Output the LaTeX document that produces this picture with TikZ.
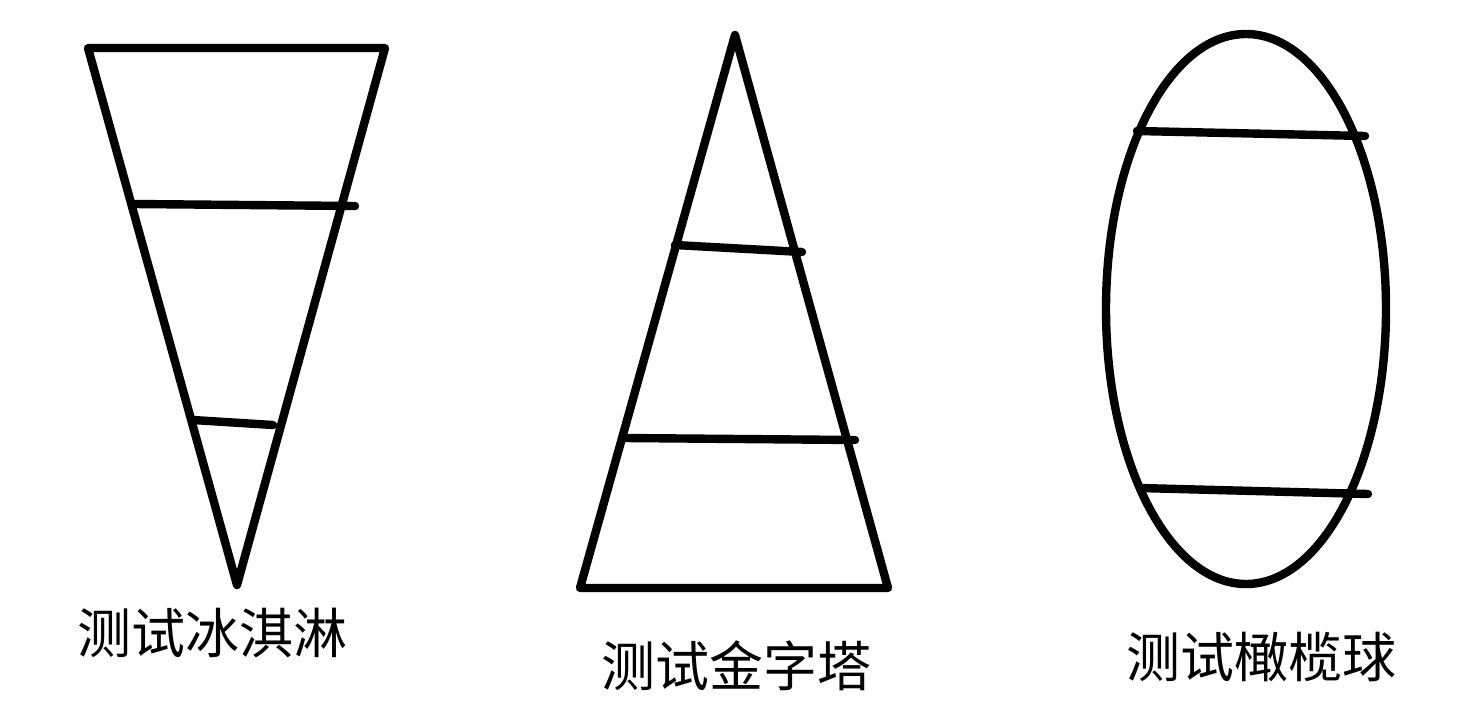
\documentclass[tikz,border=0pt]{standalone}
\usepackage{fontspec}
\usetikzlibrary{shapes.geometric}
\newfontfamily\cjk{Noto Sans CJK SC}
\begin{document}
\begin{tikzpicture}[x=0.5pt,y=-0.5pt,
  shape line/.style={line width=4.2pt,line join=round,line cap=round},
  label text/.style={font=\cjk\fontsize{27}{30}\selectfont,inner sep=0pt,anchor=center}]
\useasboundingbox[fill=white] (0,0) rectangle (1462,718);
% ice cream
\coordinate (a1) at (88,48);
\coordinate (a2) at (385,48);
\coordinate (a3) at (237,585);
\draw[shape line] (a1) -- (a2) -- (a3) -- cycle;
\coordinate (a4) at (134,204);
\coordinate (a5) at (355,206);
\draw[shape line] (a4) -- (a5);
\coordinate (a6) at (193,420);
\coordinate (a7) at (273,425);
\draw[shape line] (a6) -- (a7);
% pyramid
\coordinate (b1) at (735,35);
\coordinate (b2) at (580,588);
\coordinate (b3) at (888,588);
\draw[shape line] (b1) -- (b3) -- (b2) -- cycle;
\coordinate (b4) at (675,245);
\coordinate (b5) at (802,252);
\draw[shape line] (b4) -- (b5);
\coordinate (b6) at (625,438);
\coordinate (b7) at (855,440);
\draw[shape line] (b6) -- (b7);
% rugby ball
\node[draw,shape line,ellipse,minimum width=140pt,minimum height=275pt,inner sep=0pt] (c) at (1246,309) {};
\coordinate (c1) at (1137,131);
\coordinate (c2) at (1365,136);
\draw[shape line] (c1) -- (c2);
\coordinate (c3) at (1140,488);
\coordinate (c4) at (1368,494);
\draw[shape line] (c3) -- (c4);
% labels
\node[label text] (t1) at (212,633) {测试冰淇淋};
\node[label text] (t2) at (736,666) {测试金字塔};
\node[label text] (t3) at (1261,657) {测试橄榄球};
\end{tikzpicture}
\end{document}
